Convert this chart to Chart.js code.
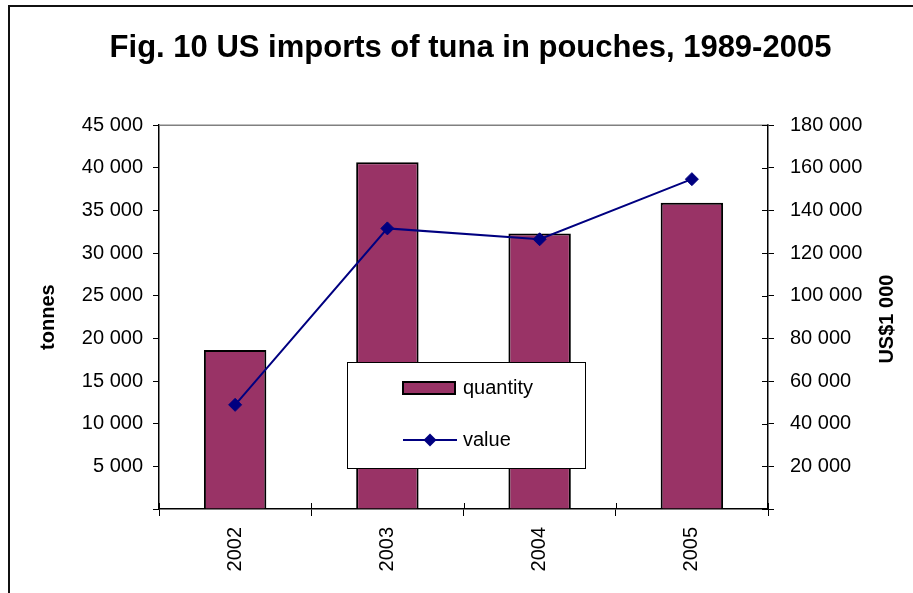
<!DOCTYPE html>
<html>
<head>
<meta charset="utf-8">
<title>Fig. 10 US imports of tuna in pouches</title>
<script src="https://cdn.jsdelivr.net/npm/chart.js@4.4.1/dist/chart.umd.min.js"></script>
<style>
  html, body { margin: 0; padding: 0; background: #fff; }
  #wrap { position: relative; width: 913px; height: 593px; overflow: hidden; }
  #frame { position: absolute; left: 8px; top: 5px; width: 920px; height: 600px;
           border-top: 2px solid #111; border-left: 2px solid #111; }
  #tuna { position: absolute; left: 0; top: 0; }
</style>
</head>
<body>
<div id="wrap">
  <div id="frame"></div>
  <canvas id="tuna" width="913" height="593"></canvas>
</div>
<script>
const years = ["2002", "2003", "2004", "2005"];
const quantity = [18650, 40670, 32300, 35900];   // tonnes
const value = [48850, 131600, 126500, 154700];   // US$1 000

const FONT = '"Liberation Sans", Arial, sans-serif';
Chart.defaults.font.family = FONT;
Chart.defaults.color = "#000";

function spaced(v) {
    if (v === 0) return "";
    return String(v).replace(/\B(?=(\d{3})+(?!\d))/g, " ");
}

// grey top edge, ticks that cross the axis, right-hand title
const axisExtras = {
    id: "axisExtras",
    afterDraw(chart) {
        const { ctx, chartArea: a, scales } = chart;
        ctx.save();
        ctx.strokeStyle = "#808080";
        ctx.lineWidth = 1.5;
        ctx.beginPath();
        ctx.moveTo(a.left, a.top);
        ctx.lineTo(a.right, a.top);
        ctx.stroke();

        ctx.strokeStyle = "#000";
        ctx.lineWidth = 1;
        ctx.beginPath();
        scales.y2.ticks.forEach(t => {
            const y = Math.round(scales.y2.getPixelForValue(t.value)) + 0.5;
            ctx.moveTo(a.right - 6, y);
            ctx.lineTo(a.right, y);
        });
        for (let i = 0; i <= years.length; i++) {
            const x = Math.round(scales.x.getPixelForValue(i - 0.5)) + 0.5;
            ctx.moveTo(x, a.bottom - 6);
            ctx.lineTo(x, a.bottom);
        }
        ctx.stroke();

        ctx.font = "bold 20px " + FONT;
        ctx.fillStyle = "#000";
        ctx.textAlign = "center";
        ctx.textBaseline = "middle";
        ctx.translate(scales.y2.right - 26, (a.top + a.bottom) / 2 + 2);
        ctx.rotate(-Math.PI / 2);
        ctx.fillText("US$1 000", 0, 0);
        ctx.restore();
    }
};

// boxed legend sitting inside the plot
const boxLegend = {
    id: "boxLegend",
    afterDraw(chart, args, opts) {
        const { ctx } = chart;
        const b = opts.box;
        ctx.save();
        ctx.fillStyle = "#fff";
        ctx.fillRect(b.x, b.y, b.w, b.h);
        ctx.strokeStyle = "#000";
        ctx.lineWidth = 1;
        ctx.strokeRect(b.x + 0.5, b.y + 0.5, b.w, b.h);

        ctx.font = "20px " + FONT;
        ctx.textBaseline = "alphabetic";
        chart.data.datasets.forEach((ds, i) => {
            const base = b.y + opts.rows[i];
            const mid = base - 6;
            const x0 = b.x + opts.symbolX;
            if (ds.type === "line") {
                ctx.strokeStyle = ds.borderColor;
                ctx.lineWidth = 2;
                ctx.beginPath();
                ctx.moveTo(x0, mid);
                ctx.lineTo(x0 + 54, mid);
                ctx.stroke();
                const cx = x0 + 27, r = 6.5;
                ctx.fillStyle = ds.pointBackgroundColor;
                ctx.beginPath();
                ctx.moveTo(cx - r, mid);
                ctx.lineTo(cx, mid - r);
                ctx.lineTo(cx + r, mid);
                ctx.lineTo(cx, mid + r);
                ctx.closePath();
                ctx.fill();
            } else {
                ctx.fillStyle = ds.backgroundColor;
                ctx.fillRect(x0, mid - 6, 52, 12);
                ctx.strokeStyle = ds.borderColor;
                ctx.lineWidth = 2;
                ctx.strokeRect(x0, mid - 6, 52, 12);
            }
            ctx.fillStyle = "#000";
            ctx.fillText(ds.label, b.x + opts.textX, base);
        });
        ctx.restore();
    }
};

new Chart(document.getElementById("tuna"), {
    type: "bar",
    data: {
        labels: years,
        datasets: [
            {
                type: "bar",
                label: "quantity",
                data: quantity,
                yAxisID: "y",
                backgroundColor: "#993366",
                borderColor: "#000",
                borderWidth: 2,
                barPercentage: 0.41,
                categoryPercentage: 1,
                order: 1,
            },
            {
                type: "line",
                label: "value",
                data: value,
                yAxisID: "y2",
                borderColor: "#000080",
                borderWidth: 2,
                tension: 0,
                pointStyle: "rectRot",
                pointRadius: 6.5,
                pointBackgroundColor: "#000080",
                pointBorderColor: "#000080",
                pointBorderWidth: 1,
                order: 0,
            },
        ],
    },
    options: {
        responsive: false,
        animation: false,
        devicePixelRatio: 1,
        layout: { padding: { left: 28, right: 0, top: 0, bottom: 0 } },
        scales: {
            x: {
                grid: { offset: true, drawOnChartArea: false, tickLength: 7, color: "#000" },
                border: { color: "#000", width: 1.5 },
                ticks: { minRotation: 90, maxRotation: 90, padding: 11, font: { size: 20 } },
                afterFit: s => { s.height = 84; },
            },
            y: {
                position: "left",
                min: 0,
                max: 45000,
                ticks: { stepSize: 5000, padding: 10, font: { size: 20 }, callback: spaced },
                grid: { drawOnChartArea: false, tickLength: 6, color: "#000" },
                border: { color: "#000", width: 1.5 },
                title: { display: true, text: "tonnes", font: { size: 20, weight: "bold" }, padding: { top: 8, bottom: 0 } },
                afterFit: s => { s.width = 131; },
            },
            y2: {
                position: "right",
                min: 0,
                max: 180000,
                ticks: { stepSize: 20000, padding: 16, font: { size: 20 }, callback: spaced },
                grid: { drawOnChartArea: false, tickLength: 6, color: "#000" },
                border: { color: "#000", width: 1.5 },
                afterFit: s => { s.width = 145; },
            },
        },
        plugins: {
            legend: { display: false },
            tooltip: { enabled: false },
            title: {
                display: true,
                text: "Fig. 10 US imports of tuna in pouches, 1989-2005",
                font: { size: 31, weight: "bold" },
                color: "#000",
                padding: { top: 30, bottom: 58 },
            },
            boxLegend: {
                box: { x: 347, y: 362, w: 238, h: 106 },
                rows: [32, 84],
                symbolX: 56,
                textX: 116,
            },
        },
    },
    plugins: [axisExtras, boxLegend],
});
</script>
</body>
</html>
